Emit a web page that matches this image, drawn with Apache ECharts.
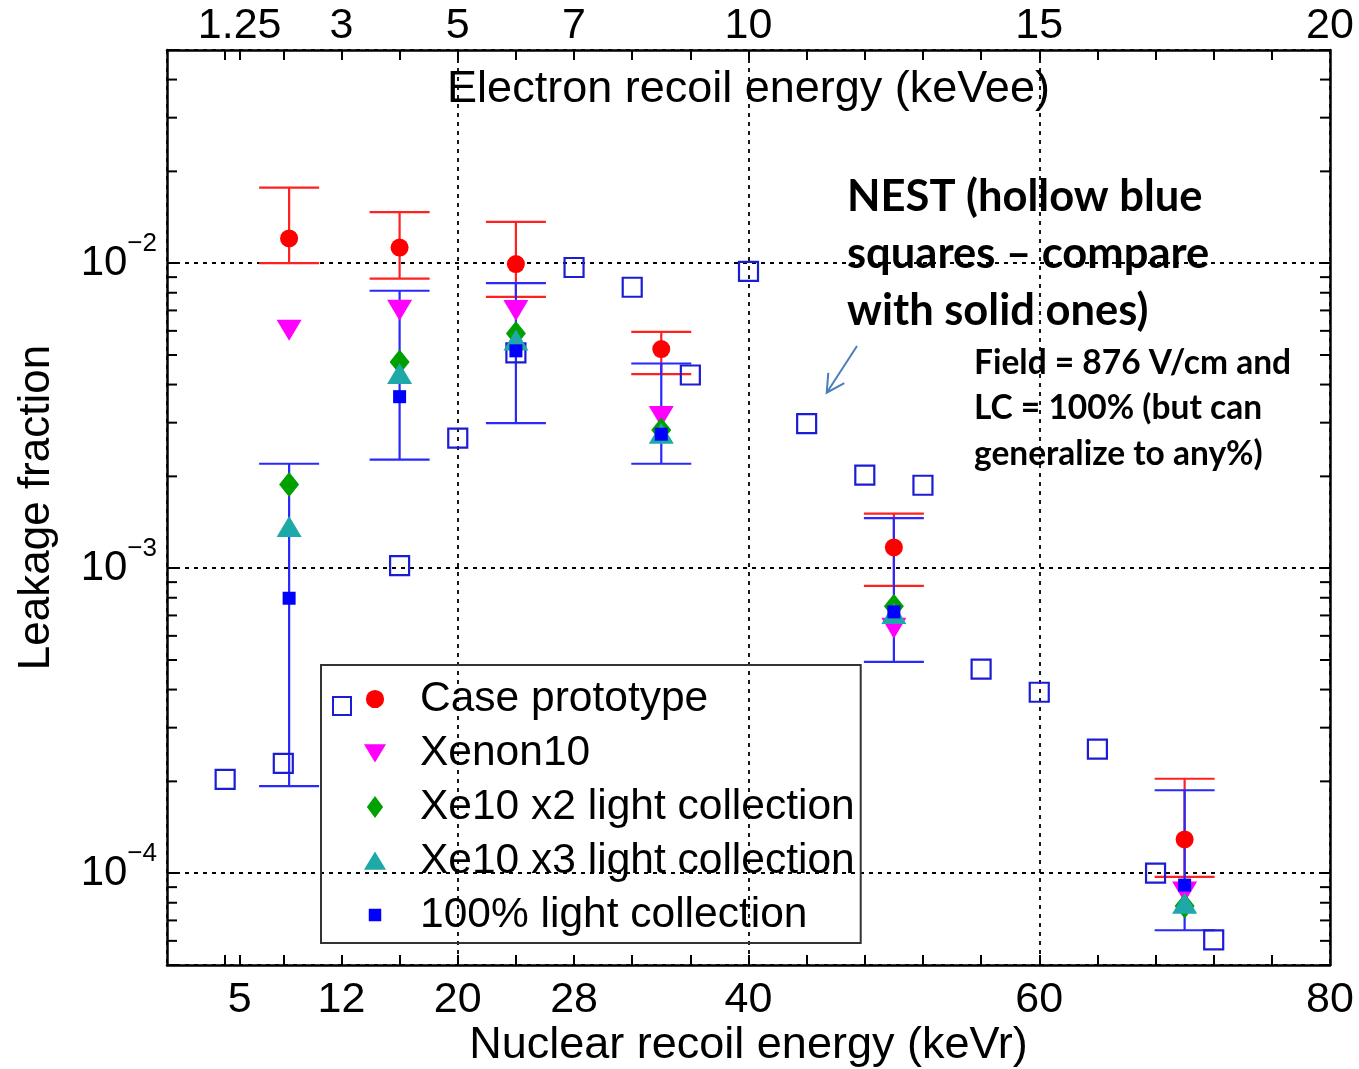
<!DOCTYPE html>
<html><head><meta charset="utf-8">
<script src="https://cdn.jsdelivr.net/npm/echarts@6/dist/echarts.min.js"></script>
<style>html,body{margin:0;padding:0;background:#fff}#c{width:1359px;height:1069px}</style>
</head><body><div id="c"></div>
<script>
// ---------- axis ticks / labels ----------
const xMin = 0, xMax = 80;
const xTickValues = [4,5,8,12,16,20,24,28,32,36,40,44,48,52,56,60,64,68,72,76];
const xLabelValues = [5,12,20,28,40,60,80];
const topLabelTexts = ['1.25','3','5','7','10','15','20'];
const yMin = 5e-5, yMax = 5e-2;
const yLabelValues = [1e-4,1e-3,1e-2];
const yLabelExponents = ['\u22124','\u22123','\u22122'];
const yMinorTicks = [6e-5,7e-5,8e-5,9e-5,2e-4,3e-4,4e-4,5e-4,6e-4,7e-4,8e-4,9e-4,2e-3,3e-3,4e-3,5e-3,6e-3,7e-3,8e-3,9e-3,2e-2,3e-2,4e-2];

// ---------- data ----------
const measX = [8.4, 16, 24, 34, 50, 70];
const caseY    = [1.205e-2, 1.125e-2, 9.93e-3, 5.23e-3, 1.17e-3, 1.29e-4];
const caseLow  = [1.0e-2, 8.9e-3, 7.76e-3, 4.33e-3, 8.75e-4, 9.72e-5];
const caseHigh = [1.77e-2, 1.47e-2, 1.365e-2, 5.95e-3, 1.51e-3, 2.04e-4];
const xenon10Y = [6.03e-3, 7.01e-3, 7.0e-3, 3.14e-3, 6.36e-4, 8.68e-5];
const xe10x2Y  = [1.88e-3, 4.74e-3, 5.88e-3, 2.84e-3, 7.5e-4, 7.8e-5];
const xe10x3Y  = [1.37e-3, 4.35e-3, 5.6e-3, 2.77e-3, 7.1e-4, 7.97e-5];
const lc100Y    = [7.97e-4, 3.65e-3, 5.16e-3, 2.75e-3, 7.19e-4, 9.14e-5];
const lc100Low  = [1.93e-4, 2.27e-3, 2.99e-3, 2.2e-3, 4.93e-4, 6.5e-5];
const lc100High = [2.2e-3, 8.12e-3, 8.6e-3, 4.69e-3, 1.46e-3, 1.87e-4];
const nestX = [4, 8, 16, 20, 24, 28, 32, 36, 40, 44, 48, 52, 56, 60, 64, 68, 72];
const nestY = [2.03e-4, 2.29e-4, 1.02e-3, 2.67e-3, 5.08e-3, 9.68e-3, 8.34e-3, 4.3e-3, 9.4e-3, 2.98e-3, 2.02e-3, 1.87e-3, 4.67e-4, 3.92e-4, 2.55e-4, 1.0e-4, 6.04e-5];

const FONT = 'Liberation Sans';
const ANNO_FONT = 'Lato';
const RED = '#ff0000', RED_BAR = '#ff2020';
const BLUE = '#0000ff', BLUE_BAR = '#2828ff';
const NEST_BLUE = '#1c1cd4';

const pairs = (xs, ys) => xs.map((x, i) => [x, ys[i]]);
const triples = (xs, lo, hi) => xs.map((x, i) => [x, lo[i], hi[i]]);

function errRender(color) {
  return function (params, api) {
    const x = api.value(0), lo = api.value(1), hi = api.value(2);
    const pLo = api.coord([x, lo]), pHi = api.coord([x, hi]);
    const hw = 30;
    const st = { stroke: color, lineWidth: 2.2 };
    return { type: 'group', children: [
      { type: 'line', shape: { x1: pLo[0], y1: pLo[1], x2: pHi[0], y2: pHi[1] }, style: st },
      { type: 'line', shape: { x1: pLo[0] - hw, y1: pLo[1], x2: pLo[0] + hw, y2: pLo[1] }, style: st },
      { type: 'line', shape: { x1: pHi[0] - hw, y1: pHi[1], x2: pHi[0] + hw, y2: pHi[1] }, style: st }
    ]};
  };
}
function minorTickRender(params, api) {
  const v = api.value(1);
  const pL = api.coord([xMin, v]), pR = api.coord([xMax, v]);
  const st = { stroke: '#000', lineWidth: 2 };
  return { type: 'group', children: [
    { type: 'line', shape: { x1: pL[0], y1: pL[1], x2: pL[0] + 10, y2: pL[1] }, style: st },
    { type: 'line', shape: { x1: pR[0], y1: pR[1], x2: pR[0] - 10, y2: pR[1] }, style: st }
  ]};
}
function yLabel(v) {
  for (let i = 0; i < yLabelValues.length; i++) {
    if (Math.abs(v - yLabelValues[i]) / yLabelValues[i] < 1e-6) return '{b|10}{s|' + yLabelExponents[i] + '}';
  }
  return '';
}
function topLabel(v) {
  const i = xLabelValues.indexOf(v);
  return i >= 0 ? topLabelTexts[i] : '';
}

const P = 'M0 0L1 0L0 1Z M100 100L99 100L100 99Z ';
const icons = {
  circle: 'path://' + P + 'M88 50A38 38 0 1 1 12 50A38 38 0 1 1 88 50Z',
  down: 'path://' + P + 'M4 14L96 14L50 90Z',
  diamond: 'path://' + P + 'M50 4L84 50L50 96L16 50Z',
  up: 'path://' + P + 'M4 86L96 86L50 10Z',
  square: 'path://' + P + 'M24 24L76 24L76 76L24 76Z'
};

const axisLineStyle = { color: '#000', width: 2.5 };
const tickStyle = { color: '#000', width: 2 };
const gridDash = { color: '#000', width: 1.8, type: [4, 5] };

const option = {
  animation: false,
  backgroundColor: '#fff',
  grid: { left: 167, right: 29, top: 50, bottom: 104, containLabel: false, outerBoundsMode: 'none' },
  xAxis: [
    { type: 'value', position: 'bottom', min: xMin, max: xMax,
      axisLine: { show: true, onZero: false, lineStyle: axisLineStyle },
      axisTick: { show: true, inside: true, length: 10, customValues: xTickValues, lineStyle: tickStyle },
      axisLabel: { customValues: xLabelValues, fontSize: 43, fontFamily: FONT, color: '#000', margin: 14 },
      splitLine: { show: false },
      name: 'Nuclear recoil energy (keVr)', nameLocation: 'middle', nameGap: 81, nameMoveOverlap: false,
      nameTextStyle: { fontSize: 45, fontFamily: FONT, color: '#000', verticalAlign: 'middle' } },
    { type: 'value', position: 'top', min: xMin, max: xMax,
      axisLine: { show: true, onZero: false, lineStyle: axisLineStyle },
      axisTick: { show: true, inside: true, length: 10, customValues: xTickValues, lineStyle: tickStyle },
      axisLabel: { customValues: xLabelValues, formatter: topLabel, fontSize: 43, fontFamily: FONT, color: '#000', margin: 2 },
      splitLine: { show: false },
      name: 'Electron recoil energy (keVee)', nameLocation: 'middle', nameGap: -40, nameMoveOverlap: false,
      nameTextStyle: { fontSize: 45, fontFamily: FONT, color: '#000', verticalAlign: 'middle' } },
    { type: 'value', position: 'bottom', min: xMin, max: xMax, interval: 20,
      axisLine: { show: false, onZero: false }, axisTick: { show: false }, axisLabel: { show: false },
      splitLine: { show: true, lineStyle: gridDash } }
  ],
  yAxis: [
    { type: 'log', logBase: 10, position: 'left', min: yMin, max: yMax,
      axisLine: { show: true, onZero: false, lineStyle: axisLineStyle },
      axisTick: { show: true, inside: true, length: 10, lineStyle: tickStyle },
      axisLabel: { formatter: yLabel, margin: 10, showMinLabel: true, showMaxLabel: true,
        rich: { b: { fontSize: 42, lineHeight: 42, fontFamily: FONT, color: '#000' },
                s: { fontSize: 26, lineHeight: 26, fontFamily: FONT, color: '#000', padding: [0, 0, 38, 0] } } },
      splitLine: { show: true, lineStyle: gridDash },
      name: 'Leakage fraction', nameLocation: 'middle', nameGap: 130, nameRotate: 90, nameMoveOverlap: false,
      nameTextStyle: { fontSize: 44, fontFamily: FONT, color: '#000', verticalAlign: 'middle' } },
    { type: 'log', logBase: 10, position: 'right', min: yMin, max: yMax,
      axisLine: { show: true, onZero: false, lineStyle: axisLineStyle },
      axisTick: { show: true, inside: true, length: 10, lineStyle: tickStyle },
      axisLabel: { show: false }, splitLine: { show: false } }
  ],
  legend: [
    { left: 321, top: 665, orient: 'vertical', selectedMode: false,
      padding: [11, 6, 5, 42], itemGap: 8, itemWidth: 24, itemHeight: 24,
      borderColor: '#333', borderWidth: 2, borderRadius: 0,
      textStyle: { fontSize: 42.5, lineHeight: 46, fontFamily: FONT, color: '#000', padding: [0, 0, 0, 28] },
      data: [
        { name: 'Case prototype', icon: icons.circle },
        { name: 'Xenon10', icon: icons.down },
        { name: 'Xe10 x2 light collection', icon: icons.diamond },
        { name: 'Xe10 x3 light collection', icon: icons.up },
        { name: '100% light collection', icon: icons.square }
      ] },
    { left: 332, top: 696, orient: 'vertical', selectedMode: false, padding: 0,
      itemWidth: 18, itemHeight: 18, formatter: function () { return ''; },
      textStyle: { fontSize: 12, lineHeight: 18 },
      data: [{ name: 'NEST', icon: 'rect',
        itemStyle: { color: 'rgba(0,0,0,0)', borderColor: NEST_BLUE, borderWidth: 2 } }] }
  ],
  series: [
    { name: 'yMinorTicks', type: 'custom', xAxisIndex: 0, yAxisIndex: 0, clip: false, silent: true,
      renderItem: minorTickRender, data: yMinorTicks.map(v => [xMin, v]), z: 5 },
    { name: 'errCase', type: 'custom', xAxisIndex: 0, yAxisIndex: 0, silent: true,
      encode: { x: 0, y: [1, 2] }, renderItem: errRender(RED_BAR), data: triples(measX, caseLow, caseHigh), z: 2 },
    { name: 'errLC', type: 'custom', xAxisIndex: 0, yAxisIndex: 0, silent: true,
      encode: { x: 0, y: [1, 2] }, renderItem: errRender(BLUE_BAR), data: triples(measX, lc100Low, lc100High), z: 2 },
    { name: 'NEST', type: 'scatter', xAxisIndex: 0, yAxisIndex: 0, symbol: 'rect', symbolSize: 19,
      itemStyle: { color: 'rgba(0,0,0,0)', borderColor: NEST_BLUE, borderWidth: 2.2, opacity: 1 },
      data: pairs(nestX, nestY), z: 3 },
    { name: 'Case prototype', type: 'scatter', symbol: 'circle', symbolSize: 18,
      itemStyle: { color: RED, opacity: 1 }, data: pairs(measX, caseY), z: 3 },
    { name: 'Xenon10', type: 'scatter', symbol: 'triangle', symbolRotate: 180, symbolSize: [25, 21],
      itemStyle: { color: '#ff00ff', opacity: 1 }, data: pairs(measX, xenon10Y), z: 3 },
    { name: 'Xe10 x2 light collection', type: 'scatter', symbol: 'diamond', symbolSize: [20, 25],
      itemStyle: { color: '#00a000', opacity: 1 }, data: pairs(measX, xe10x2Y), z: 3 },
    { name: 'Xe10 x3 light collection', type: 'scatter', symbol: 'triangle', symbolSize: [25, 21],
      itemStyle: { color: '#1fa8a8', opacity: 1 }, data: pairs(measX, xe10x3Y), z: 3 },
    { name: '100% light collection', type: 'scatter', symbol: 'rect', symbolSize: 13,
      itemStyle: { color: BLUE, opacity: 1 }, data: pairs(measX, lc100Y), z: 3 }
  ],
  graphic: [
    { type: 'text', left: 847, top: 168, z: 100,
      style: { text: 'NEST (hollow blue\nsquares \u2013 compare\nwith solid ones)', fill: '#000',
        font: 'bold 43.5px "' + ANNO_FONT + '"', lineHeight: 57 } },
    { type: 'text', left: 974, top: 340, z: 100,
      style: { text: 'Field = 876 V/cm and\nLC = 100% (but can\ngeneralize to any%)', fill: '#000',
        font: 'bold 33.5px "' + ANNO_FONT + '"', lineHeight: 45.5 } },
    { type: 'line', z: 100, shape: { x1: 857, y1: 346, x2: 826.7, y2: 392.7 },
      style: { stroke: '#4a7ebb', lineWidth: 2 } },
    { type: 'polyline', z: 100, shape: { points: [[844.3, 383.2], [826.7, 392.7], [828.3, 372.8]] },
      style: { stroke: '#4a7ebb', lineWidth: 2, fill: null } }
  ]
};

const chart = echarts.init(document.getElementById('c'), null, { renderer: 'canvas' });
chart.setOption(option);
</script>
</body></html>
